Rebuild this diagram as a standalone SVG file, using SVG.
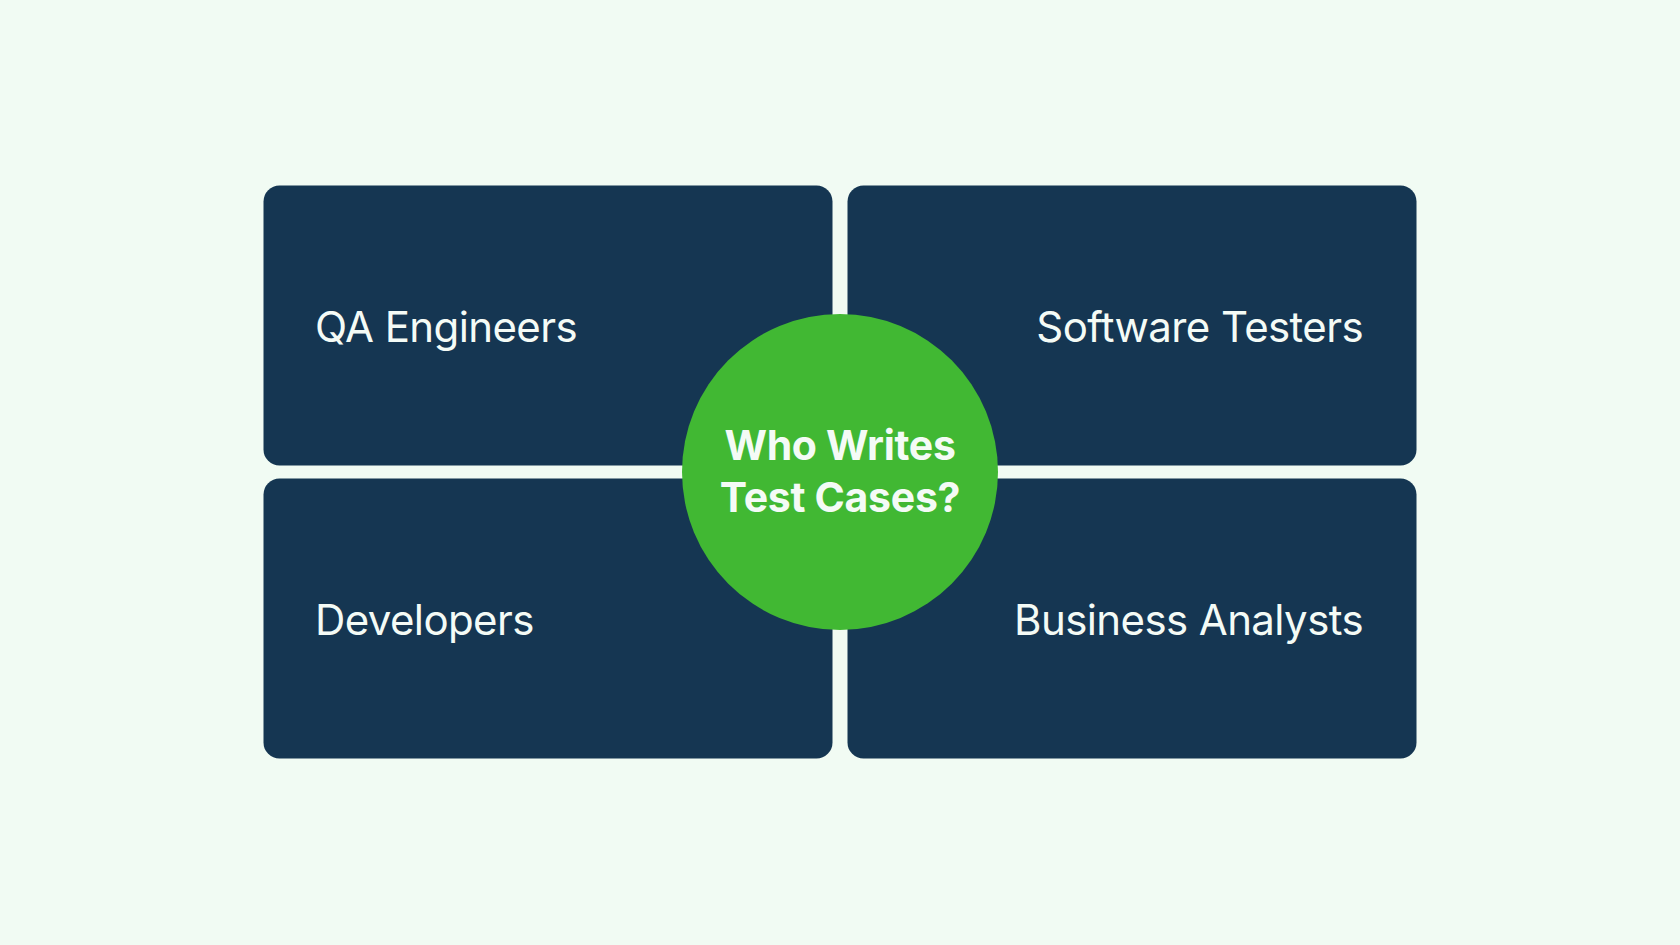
<svg xmlns="http://www.w3.org/2000/svg" width="1680" height="945" viewBox="0 0 1680 945">
<style>
.box{fill:#153652}
.lbl{font-family:Inter,"Liberation Sans",sans-serif;font-size:42px;font-weight:400;letter-spacing:-0.6px;fill:#f4fbf6}
.ctr{font-family:Inter,"Liberation Sans",sans-serif;font-size:41px;font-weight:700;letter-spacing:-0.3px;fill:#f4fbf6;text-anchor:middle}
</style>
<rect width="1680" height="945" fill="#f1fbf3"/>
<g id="connectors"/>
<g id="qa">
<rect class="box" x="263.5" y="185.5" width="569" height="280" rx="16"/>
<text class="lbl" x="315" y="342">QA Engineers</text>
</g>
<g id="testers">
<rect class="box" x="847.5" y="185.5" width="569" height="280" rx="16"/>
<text class="lbl" x="1363" y="342" text-anchor="end">Software Testers</text>
</g>
<g id="developers">
<rect class="box" x="263.5" y="478.5" width="569" height="280" rx="16"/>
<text class="lbl" x="315" y="635">Developers</text>
</g>
<g id="analysts">
<rect class="box" x="847.5" y="478.5" width="569" height="280" rx="16"/>
<text class="lbl" x="1363" y="635" text-anchor="end">Business Analysts</text>
</g>
<g id="center">
<circle cx="840" cy="472" r="158" fill="#41b833"/>
<text class="ctr" x="840" y="460">Who Writes</text>
<text class="ctr" x="840" y="512">Test Cases?</text>
</g>
</svg>
